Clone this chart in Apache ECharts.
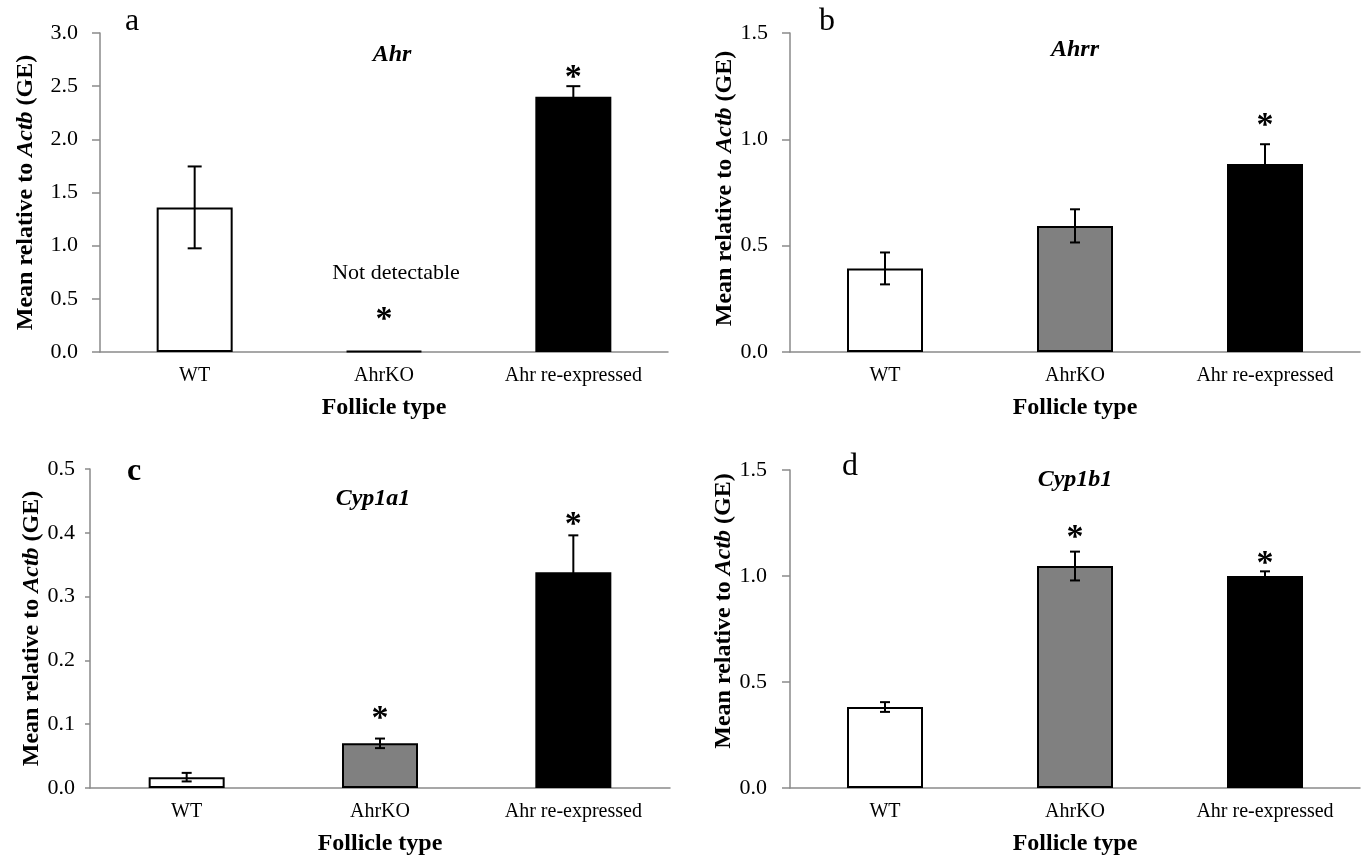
<!DOCTYPE html>
<html>
<head>
<meta charset="utf-8">
<script src="https://cdn.jsdelivr.net/npm/echarts@6/dist/echarts.min.js"></script>
<style>
html,body{margin:0;padding:0;background:#fff;}
#chart{width:1361px;height:859px;}
</style>
</head>
<body>
<div id="chart"></div>
<script>
// ---- data ----
const categories = ['WT', 'AhrKO', 'Ahr re-expressed'];

const ahrMean    = [1.36, 0.01, 2.40];
const ahrErr     = [0.385, 0, 0.10];
const ahrStar    = [null, 0.376, 2.653];

const ahrrMean   = [0.393, 0.593, 0.884];
const ahrrErr    = [0.075, 0.078, 0.093];
const ahrrStar   = [null, null, 1.100];

const cyp1a1Mean = [0.017, 0.070, 0.338];
const cyp1a1Err  = [0.0067, 0.0075, 0.058];
const cyp1a1Star = [null, 0.120, 0.4237];

const cyp1b1Mean = [0.382, 1.047, 1.000];
const cyp1b1Err  = [0.023, 0.068, 0.022];
const cyp1b1Star = [null, 1.217, 1.095];

const noteA      = [null, 'Not detectable', null];
const noteAY     = [null, 0.738, null];

const yMax       = [3.0, 1.5, 0.5, 1.5];
const yInterval  = [0.5, 0.5, 0.1, 0.5];
const genes      = ['Ahr', 'Ahrr', 'Cyp1a1', 'Cyp1b1'];
const letters    = ['a', 'b', 'c', 'd'];

// ---- styles ----
const FONT = 'Liberation Serif';
const barColors = ['#ffffff', '#808080', '#000000'];
const axisGray = '#8a8a8a';

const grids = [
  {left: 100, top: 33, width: 568, height: 319},
  {left: 790, top: 33, width: 570, height: 319},
  {left: 90, top: 469, width: 580, height: 319},
  {left: 790, top: 470, width: 570, height: 318}
];
const yNameGap = [62, 53, 45, 53];
const yNamePad = [[0,0,0,0],[0,0,0,8],[0,0,0,0],[0,0,0,36]];
const yLabelMargin = [22, 22, 15, 23];
const yTickLen = [8, 8, 5, 8];
const yLabelSize = [22, 22, 22, 22];
const capW = [14, 10, 10, 10];
const letterWeight = ['normal', 'normal', 'bold', 'normal'];

const means = [ahrMean, ahrrMean, cyp1a1Mean, cyp1b1Mean];
const errs = [ahrErr, ahrrErr, cyp1a1Err, cyp1b1Err];
const stars = [ahrStar, ahrrStar, cyp1a1Star, cyp1b1Star];

const titlePos = [[392, 54.5], [1075, 49.5], [373, 498.5], [1075, 480]];
const letterPos = [[125, 22], [819, 22], [127, 472], [842, 467]];

const xAxis = [], yAxis = [], series = [];
for (let p = 0; p < 4; p++) {
  xAxis.push({
    type: 'category', gridIndex: p, data: categories,
    axisLine: {show: true, lineStyle: {color: axisGray, width: 1.5}},
    axisTick: {show: false},
    axisLabel: {fontFamily: FONT, fontSize: 20, color: '#000', margin: 14, interval: 0},
    name: 'Follicle type', nameLocation: 'middle', nameGap: 44,
    nameTextStyle: {fontFamily: FONT, fontSize: 24, fontWeight: 'bold', color: '#000'}
  });
  yAxis.push({
    type: 'value', gridIndex: p, min: 0, max: yMax[p], interval: yInterval[p],
    axisLine: {show: true, lineStyle: {color: axisGray, width: 1.5}},
    axisTick: {show: true, inside: false, length: yTickLen[p], lineStyle: {color: axisGray, width: 1.5}},
    splitLine: {show: false},
    axisLabel: {fontFamily: FONT, fontSize: yLabelSize[p], color: '#000', margin: yLabelMargin[p],
      formatter: v => v.toFixed(1)},
    name: 'Mean relative to {i|Actb} (GE)', nameLocation: 'middle', nameGap: yNameGap[p], nameRotate: 90,
    nameTextStyle: {fontFamily: FONT, fontSize: 24, fontWeight: 'bold', color: '#000', padding: yNamePad[p],
      rich: {i: {fontFamily: FONT, fontSize: 24, fontWeight: 'bold', fontStyle: 'italic', color: '#000'}}}
  });
  series.push({
    type: 'bar', xAxisIndex: p, yAxisIndex: p, barWidth: 76,
    data: means[p].map((v, i) => ({value: v, itemStyle: {color: barColors[i]}})),
    itemStyle: {borderColor: '#000', borderWidth: 2},
    silent: true, animation: false
  });
  const cw = capW[p];
  series.push({
    type: 'custom', xAxisIndex: p, yAxisIndex: p, animation: false, silent: true, z: 5,
    data: means[p].map((v, i) => [i, v, errs[p][i]]),
    encode: {x: 0, y: 1},
    renderItem: function (params, api) {
      const x = api.value(0), m = api.value(1), e = api.value(2);
      if (!e) return null;
      const t = api.coord([x, m + e]);
      const b = api.coord([x, m - e]);
      const st = {stroke: '#000', lineWidth: 2};
      return {type: 'group', children: [
        {type: 'line', shape: {x1: t[0], y1: t[1], x2: b[0], y2: b[1]}, style: st},
        {type: 'line', shape: {x1: t[0] - cw / 2, y1: t[1], x2: t[0] + cw / 2, y2: t[1]}, style: st},
        {type: 'line', shape: {x1: b[0] - cw / 2, y1: b[1], x2: b[0] + cw / 2, y2: b[1]}, style: st}
      ]};
    }
  });
  series.push({
    type: 'custom', xAxisIndex: p, yAxisIndex: p, animation: false, silent: true, z: 6,
    data: stars[p].map((v, i) => [i, v == null ? 0 : v, v == null ? 0 : 1]),
    encode: {x: 0, y: 1},
    renderItem: function (params, api) {
      if (!api.value(2)) return null;
      const c = api.coord([api.value(0), api.value(1)]);
      return {type: 'text', x: c[0], y: c[1] + 8,
        style: {text: '*', fontFamily: FONT, fontSize: 34, fontWeight: 'bold', fill: '#000', align: 'center', verticalAlign: 'middle'}};
    }
  });
}
// note "Not detectable" in panel a
series.push({
  type: 'custom', xAxisIndex: 0, yAxisIndex: 0, animation: false, silent: true, z: 6,
  data: noteAY.map((v, i) => [i, v == null ? 0 : v, v == null ? 0 : 1]),
  encode: {x: 0, y: 1},
  renderItem: function (params, api) {
    const i = api.value(0);
    if (!api.value(2)) return null;
    const c = api.coord([i, api.value(1)]);
    return {type: 'text', x: c[0] + 12, y: c[1],
      style: {text: noteA[i], fontFamily: FONT, fontSize: 22, fill: '#000', align: 'center', verticalAlign: 'middle'}};
  }
});

const graphic = [];
for (let p = 0; p < 4; p++) {
  graphic.push({type: 'text', x: titlePos[p][0], y: titlePos[p][1], silent: true,
    style: {text: genes[p], fontFamily: FONT, fontSize: 24, fontWeight: 'bold', fontStyle: 'italic',
      fill: '#000', align: 'center', verticalAlign: 'middle'}});
  graphic.push({type: 'text', x: letterPos[p][0], y: letterPos[p][1], silent: true,
    style: {text: letters[p], fontFamily: FONT, fontSize: 32, fontWeight: letterWeight[p], fill: '#000', align: 'left', verticalAlign: 'middle'}});
}

const chart = echarts.init(document.getElementById('chart'), null, {renderer: 'canvas'});
chart.setOption({
  backgroundColor: '#fff',
  animation: false,
  grid: grids.map(g => Object.assign({containLabel: false}, g)),
  xAxis, yAxis, series, graphic
});
</script>
</body>
</html>
